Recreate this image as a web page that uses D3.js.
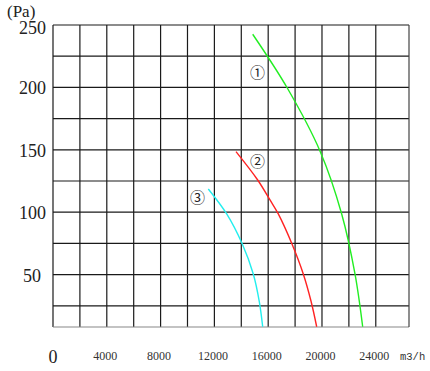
<!DOCTYPE html>
<html>
<head>
<meta charset="utf-8">
<script src="https://cdn.jsdelivr.net/npm/d3@7"></script>
<style>
  body { margin: 0; background: #fff; }
  .serif { font-family: 'Liberation Serif'; }
  .mono { font-family: 'Liberation Mono'; }
  .cjk { font-family: 'Noto Sans CJK JP'; }
</style>
</head>
<body>
<div id="chart"></div>
<script>
(function(d3) {
'use strict';

// air volume (m3/h) vs static pressure (Pa)
var curve1 = [[14848, 242.6], [17420, 199.5], [19874, 148.5], [21465, 98.6], [22454, 50.5], [23026, 8.2]];
var curve2 = [[13606, 148.5], [15219, 125.8], [16134, 109.8], [16751, 98.6], [17770, 74.5],
  [18610, 50.5], [19182, 28.8], [19606, 8.2]];
var curve3 = [[11547, 118.6], [12915, 98.6], [14074, 74.5], [14892, 50.5], [15339, 28.3], [15591, 8.2]];
var seriesNames = ['\u2460', '\u2461', '\u2462'];
var seriesColors = ['#22ee22', '#ff2222', '#22eeee'];
var labelAt = [[15200, 214], [15200, 143], [10750, 114]];

var xTicks = [4000, 8000, 12000, 16000, 20000, 24000];
var yTicks = [50, 100, 150, 200, 250];
var xGrid = d3.range(0, 24001, 2000);
var yGrid = d3.range(25, 251, 25);

var width = 430, height = 371;
var x = d3.scaleLinear().domain([0, 26470]).range([53, 409]);
var y = d3.scaleLinear().domain([8, 250]).range([327, 25]);

var svg = d3.select('#chart')
  .append('svg')
  .attr('width', width)
  .attr('height', height);

var grid = svg.append('g')
  .attr('stroke', '#1a1a1a')
  .attr('stroke-width', 1.2);

grid.selectAll('line.v')
  .data(xGrid)
  .enter().append('line')
  .attr('class', 'v')
  .attr('x1', function(d) { return x(d); })
  .attr('x2', function(d) { return x(d); })
  .attr('y1', y(250))
  .attr('y2', y(8));

grid.selectAll('line.h')
  .data(yGrid)
  .enter().append('line')
  .attr('class', 'h')
  .attr('x1', x(0))
  .attr('x2', x(26470))
  .attr('y1', function(d) { return y(d); })
  .attr('y2', function(d) { return y(d); });

// bottom and right edges look lighter in the original
grid.append('line')
  .attr('x1', x(0)).attr('x2', x(26470))
  .attr('y1', y(8)).attr('y2', y(8))
  .attr('stroke', '#888');
grid.append('line')
  .attr('x1', x(26470)).attr('x2', x(26470))
  .attr('y1', y(250)).attr('y2', y(8))
  .attr('stroke', '#444');

// y labels
svg.selectAll('text.ylab')
  .data(yTicks)
  .enter().append('text')
  .attr('class', 'ylab serif')
  .attr('x', function(d) { return d == 50 ? 41 : 46; })
  .attr('y', function(d) { return y(d) + (d == 250 ? 9 : 7); })
  .attr('text-anchor', 'end')
  .attr('font-size', 18)
  .attr('fill', '#222')
  .text(function(d) { return d; });

svg.append('text')
  .attr('class', 'serif')
  .attr('x', 7)
  .attr('y', 17)
  .attr('font-size', 17)
  .attr('fill', '#222')
  .text('(Pa)');

// x labels
svg.selectAll('text.xlab')
  .data(xTicks)
  .enter().append('text')
  .attr('class', 'xlab serif')
  .attr('x', function(d) { return x(d) - 1.5; })
  .attr('y', 360)
  .attr('text-anchor', 'middle')
  .attr('font-size', 12)
  .attr('fill', '#333')
  .text(function(d) { return d; });

svg.append('text')
  .attr('class', 'serif')
  .attr('x', x(0))
  .attr('y', 363)
  .attr('text-anchor', 'middle')
  .attr('font-size', 18)
  .attr('fill', '#222')
  .text('0');

svg.append('text')
  .attr('class', 'mono')
  .attr('x', 400)
  .attr('y', 360)
  .attr('font-size', 10.5)
  .attr('fill', '#333')
  .text('m3/h');

var line = d3.line()
  .x(function(d) { return x(d[0]); })
  .y(function(d) { return y(d[1]); })
  .curve(d3.curveCatmullRom.alpha(0.5));

var curves = [curve1, curve2, curve3];
svg.selectAll('path.curve')
  .data(curves)
  .enter().append('path')
  .attr('class', 'curve')
  .attr('d', line)
  .attr('fill', 'none')
  .attr('stroke', function(d, i) { return seriesColors[i]; })
  .attr('stroke-width', 1.4);

svg.selectAll('text.num')
  .data(labelAt)
  .enter().append('text')
  .attr('class', 'num cjk')
  .attr('x', function(d) { return x(d[0]); })
  .attr('y', function(d) { return y(d[1]) + 8; })
  .attr('text-anchor', 'middle')
  .attr('font-size', 15)
  .attr('fill', '#222')
  .text(function(d, i) { return seriesNames[i]; });

})(window.d3);
</script>
</body>
</html>
